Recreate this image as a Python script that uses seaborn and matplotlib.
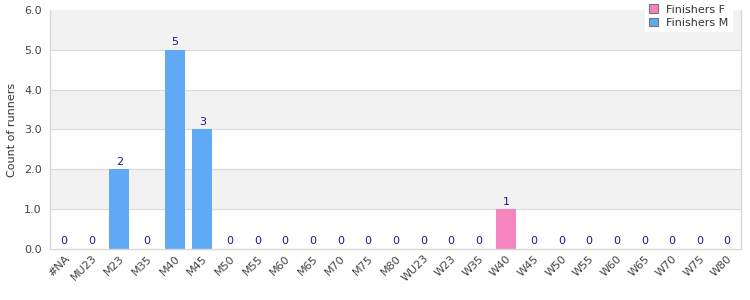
import matplotlib
matplotlib.use("Agg")
import matplotlib.pyplot as plt
import seaborn as sns
import pandas as pd
import numpy as np

categories = ["#NA", "MU23", "M23", "M35", "M40", "M45", "M50", "M55", "M60", "M65",
              "M70", "M75", "M80", "WU23", "W23", "W35", "W40", "W45", "W50", "W55",
              "W60", "W65", "W70", "W75", "W80"]
finishers_f = [0, 0, 0, 0, 0, 0, 0, 0, 0, 0, 0, 0, 0, 0, 0, 0, 1, 0, 0, 0, 0, 0, 0, 0, 0]
finishers_m = [0, 0, 2, 0, 5, 3, 0, 0, 0, 0, 0, 0, 0, 0, 0, 0, 0, 0, 0, 0, 0, 0, 0, 0, 0]
y_ticks = [0, 1, 2, 3, 4, 5, 6]

sns.set_theme(style="white")
plt.rcParams['font.family'] = ['DejaVu Sans']

df = pd.DataFrame({
    "category": categories * 2,
    "count": finishers_f + finishers_m,
    "series": ["Finishers F"] * len(categories) + ["Finishers M"] * len(categories),
})

fig, ax = plt.subplots(figsize=(7.5, 3.0), dpi=100)
fig.subplots_adjust(left=0.067, right=0.988, top=0.967, bottom=0.17)

# alternating background bands
for i in range(len(y_ticks) - 1):
    ax.axhspan(y_ticks[i], y_ticks[i + 1],
               color="#f2f2f2" if i % 2 == 1 else "white", zorder=0, lw=0)

sns.barplot(data=df, x="category", y="count", hue="series", dodge=False,
            palette={"Finishers F": "#f584bf", "Finishers M": "#60a9f4"},
            width=0.72, ax=ax, order=categories, zorder=2, saturation=1,
            linewidth=0, edgecolor="none")

for y in y_ticks[1:-1]:
    ax.axhline(y, color="#dcdcdc", lw=0.9, zorder=1)

totals = np.array(finishers_f) + np.array(finishers_m)
for i, t in enumerate(totals):
    ax.annotate(str(int(t)), (i, t), xytext=(0, 5.5), textcoords="offset points",
                ha="center", va="center", fontsize=8, color="#1a1a8a", zorder=3)

ax.set_ylim(0, 6)
ax.set_xlim(-0.5, len(categories) - 0.5)
ax.set_yticks(y_ticks)
ax.set_yticklabels([f"{v:.1f}" for v in y_ticks], fontsize=8, color="#444444")
ax.set_xticks(range(len(categories)))
ax.set_xticklabels(categories, rotation=45, ha="right", rotation_mode="anchor",
                   fontsize=8, color="#444444")
ax.tick_params(axis="y", length=0, pad=6)
ax.tick_params(axis="x", length=0, pad=3)
ax.set_xlabel("")
ax.set_ylabel("Count of runners", fontsize=8, color="#333333", labelpad=5)

for s in ["left", "right", "bottom"]:
    ax.spines[s].set_color("#d8d8d8")
    ax.spines[s].set_linewidth(1)
ax.spines["top"].set_visible(False)

leg = ax.legend(loc="upper right", bbox_to_anchor=(0.995, 1.06), fontsize=8,
                frameon=True, fancybox=False, framealpha=1, edgecolor="white",
                handlelength=0.8, handleheight=0.8, borderpad=0.3, labelspacing=0.3,
                handletextpad=0.8)
for h in leg.legend_handles:
    h.set_edgecolor("#777777")
    h.set_linewidth(0.8)
for t in leg.get_texts():
    t.set_color("#333333")
leg.set_zorder(5)

fig.savefig("out.png", dpi=100)
